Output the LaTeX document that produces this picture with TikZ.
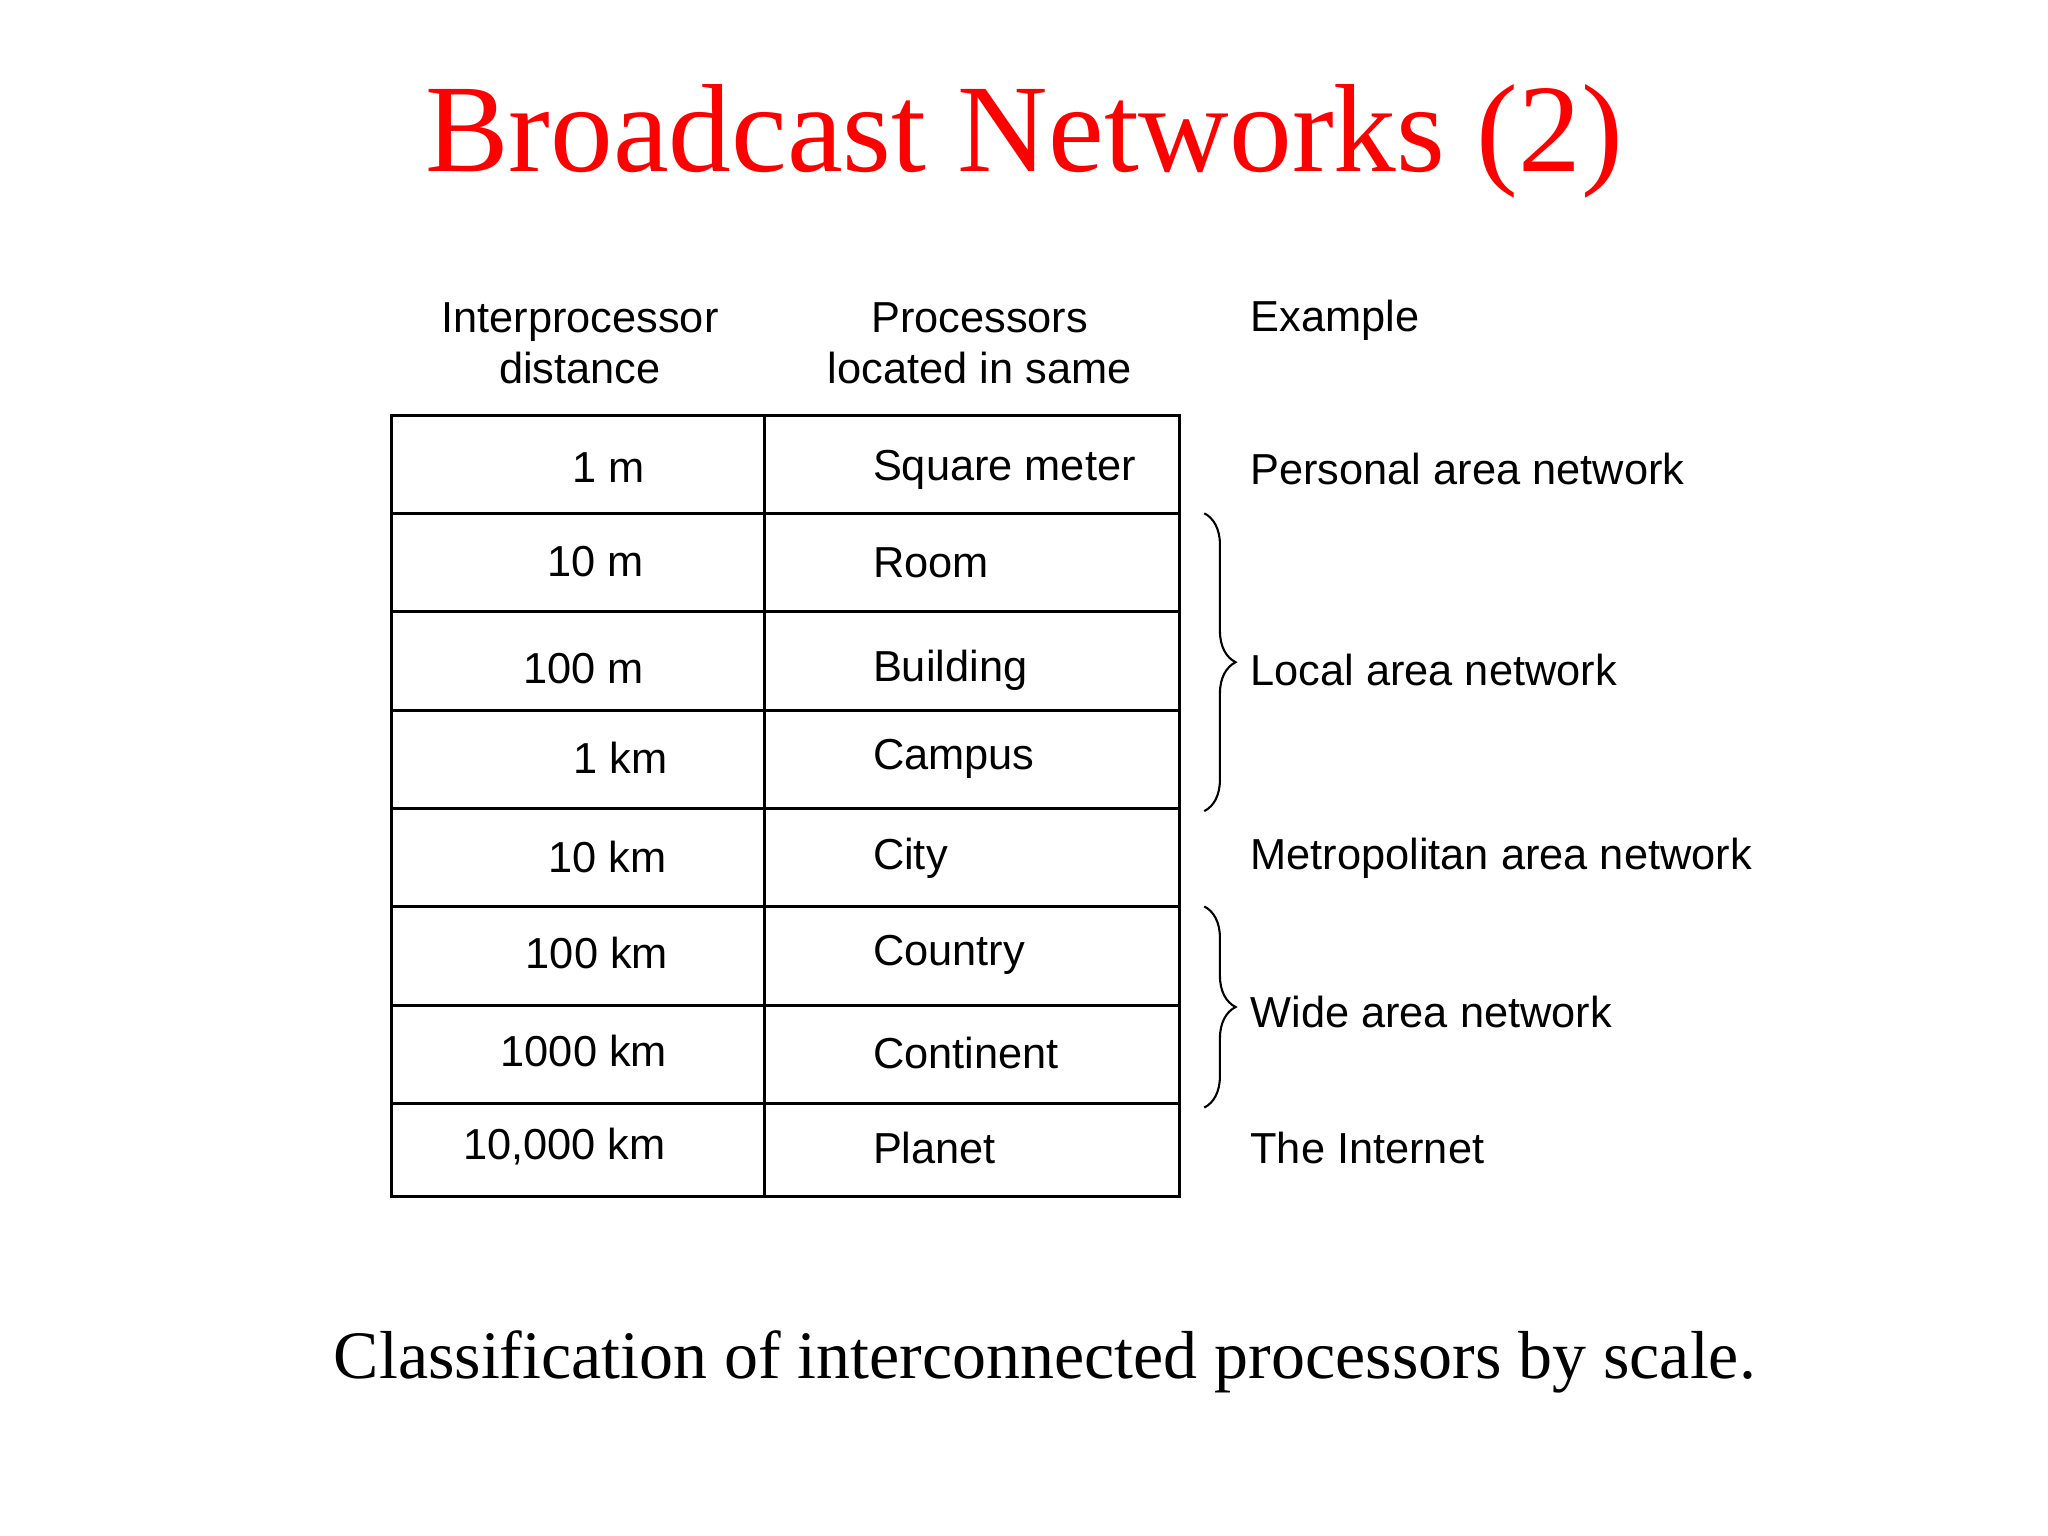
\documentclass[tikz,border=0pt]{standalone}
\usepackage{fontspec}
\setmainfont{Liberation Serif}
\newfontfamily\tabfont{Liberation Sans}
\usetikzlibrary{decorations.pathreplacing}
\begin{document}
\begin{tikzpicture}[x=0.5pt,y=-0.5pt,
  cell/.style={font=\tabfont\fontsize{16.6}{19.5}\selectfont,inner sep=0pt},
  lft/.style={cell,anchor=west},
  ctr/.style={cell,anchor=center},
  brc/.style={decorate,decoration={brace,amplitude=12pt},line width=0.8pt}]
\useasboundingbox (0,0) rectangle (1568,1176);
\node[text=red,font=\fontsize{48}{56}\selectfont] (title) at (784,108) {Broadcast Networks (2)};
\node[cell,align=center] (h1) at (444,263) {Interprocessor\\distance};
\node[cell,align=center] (h2) at (750,263) {Processors\\located in same};
\node[lft] (h3) at (957,245) {Example};
\draw[line width=1.2pt] (300,318) rectangle (903,916);
\draw[line width=1.2pt] (585,318) -- (585,916);
\foreach \y in {393,468,544,619,694,770,845} \draw[line width=1.2pt] (300,\y) -- (903,\y);
\node[ctr] (a1) at (466,358) {1 m};
\node[ctr] (a2) at (456,430) {10 m};
\node[ctr] (a3) at (447,512) {100 m};
\node[ctr] (a4) at (475,580) {1 km};
\node[ctr] (a5) at (465,656) {10 km};
\node[ctr] (a6) at (457,730) {100 km};
\node[ctr] (a7) at (447,805) {1000 km};
\node[ctr] (a8) at (432,878) {10,000 km};
\node[lft] (b1) at (668,360) {Square meter};
\node[lft] (b2) at (668,431) {Room};
\node[lft] (b3) at (668,513) {Building};
\node[lft] (b4) at (668,581) {Campus};
\node[lft] (b5) at (668,657) {City};
\node[lft] (b6) at (668,731) {Country};
\node[lft] (b7) at (668,806) {Continent};
\node[lft] (b8) at (668,879) {Planet};
\node[lft] (e1) at (957,359) {Personal area network};
\node[lft] (e2) at (957,513) {Local area network};
\node[lft] (e3) at (957,657) {Metropolitan area network};
\node[lft] (e4) at (957,775) {Wide area network};
\node[lft] (e5) at (957,879) {The Internet};
\coordinate (br1a) at (922,393); \coordinate (br1b) at (922,621);
\coordinate (br2a) at (922,694); \coordinate (br2b) at (922,848);
\draw[brc] (br1a) -- (br1b);
\draw[brc] (br2a) -- (br2b);
\node[font=\fontsize{26}{30}\selectfont] (cap) at (800,1043) {Classification of interconnected processors by scale.};
\end{tikzpicture}
\end{document}
